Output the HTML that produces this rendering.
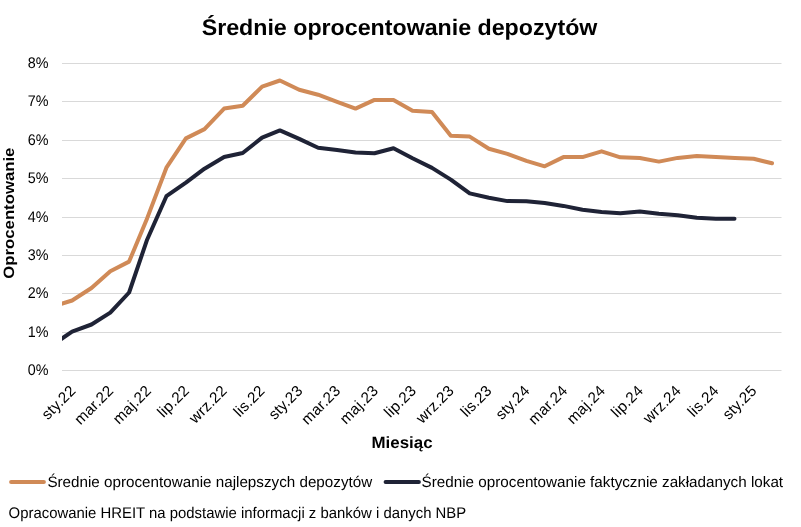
<!DOCTYPE html>
<html><head><meta charset="utf-8"><title>Średnie oprocentowanie depozytów</title>
<style>
html,body{margin:0;padding:0;background:#fff;}
svg{display:block;will-change:transform;}
text{font-family:"Liberation Sans", Arial, sans-serif;text-rendering:geometricPrecision;}
</style></head><body>
<svg width="801" height="527" viewBox="0 0 801 527">
<defs><clipPath id="pa"><rect x="62.1" y="0" width="739" height="527"/></clipPath></defs>
<rect width="801" height="527" fill="#fff"/>
<text x="201.7" y="34.7" font-size="22.5" font-weight="bold" fill="#000" textLength="395.7" lengthAdjust="spacingAndGlyphs">Średnie oprocentowanie depozytów</text>
<g fill="#D9D9D9">
<rect x="62" y="370" width="719.5" height="1"/>
<rect x="62" y="332" width="719.5" height="1"/>
<rect x="62" y="293" width="719.5" height="1"/>
<rect x="62" y="255" width="719.5" height="1"/>
<rect x="62" y="217" width="719.5" height="1"/>
<rect x="62" y="178" width="719.5" height="1"/>
<rect x="62" y="140" width="719.5" height="1"/>
<rect x="62" y="101" width="719.5" height="1"/>
<rect x="62" y="63" width="719.5" height="1"/>
</g>
<g font-size="15.4" fill="#000">
<text x="48.4" y="374.9" text-anchor="end" textLength="20.7" lengthAdjust="spacingAndGlyphs">0%</text>
<text x="48.4" y="336.9" text-anchor="end" textLength="20.7" lengthAdjust="spacingAndGlyphs">1%</text>
<text x="48.4" y="297.9" text-anchor="end" textLength="20.7" lengthAdjust="spacingAndGlyphs">2%</text>
<text x="48.4" y="259.9" text-anchor="end" textLength="20.7" lengthAdjust="spacingAndGlyphs">3%</text>
<text x="48.4" y="221.9" text-anchor="end" textLength="20.7" lengthAdjust="spacingAndGlyphs">4%</text>
<text x="48.4" y="182.9" text-anchor="end" textLength="20.7" lengthAdjust="spacingAndGlyphs">5%</text>
<text x="48.4" y="144.9" text-anchor="end" textLength="20.7" lengthAdjust="spacingAndGlyphs">6%</text>
<text x="48.4" y="105.9" text-anchor="end" textLength="20.7" lengthAdjust="spacingAndGlyphs">7%</text>
<text x="48.4" y="67.9" text-anchor="end" textLength="20.7" lengthAdjust="spacingAndGlyphs">8%</text>
</g>
<text transform="translate(14.4,278.7) rotate(-90)" font-size="15" font-weight="bold" fill="#000" textLength="131.1" lengthAdjust="spacingAndGlyphs">Oprocentowanie</text>
<g font-size="15.3" letter-spacing="0.2" fill="#000">
<text transform="translate(76.60,391.60) rotate(-45)" text-anchor="end">sty.22</text>
<text transform="translate(114.43,391.60) rotate(-45)" text-anchor="end">mar.22</text>
<text transform="translate(152.26,391.60) rotate(-45)" text-anchor="end">maj.22</text>
<text transform="translate(190.10,391.60) rotate(-45)" text-anchor="end">lip.22</text>
<text transform="translate(227.93,391.60) rotate(-45)" text-anchor="end">wrz.22</text>
<text transform="translate(265.76,391.60) rotate(-45)" text-anchor="end">lis.22</text>
<text transform="translate(303.59,391.60) rotate(-45)" text-anchor="end">sty.23</text>
<text transform="translate(341.42,391.60) rotate(-45)" text-anchor="end">mar.23</text>
<text transform="translate(379.26,391.60) rotate(-45)" text-anchor="end">maj.23</text>
<text transform="translate(417.09,391.60) rotate(-45)" text-anchor="end">lip.23</text>
<text transform="translate(454.92,391.60) rotate(-45)" text-anchor="end">wrz.23</text>
<text transform="translate(492.75,391.60) rotate(-45)" text-anchor="end">lis.23</text>
<text transform="translate(530.58,391.60) rotate(-45)" text-anchor="end">sty.24</text>
<text transform="translate(568.42,391.60) rotate(-45)" text-anchor="end">mar.24</text>
<text transform="translate(606.25,391.60) rotate(-45)" text-anchor="end">maj.24</text>
<text transform="translate(644.08,391.60) rotate(-45)" text-anchor="end">lip.24</text>
<text transform="translate(681.91,391.60) rotate(-45)" text-anchor="end">wrz.24</text>
<text transform="translate(719.74,391.60) rotate(-45)" text-anchor="end">lis.24</text>
<text transform="translate(757.58,391.60) rotate(-45)" text-anchor="end">sty.25</text>
</g>
<text x="371.5" y="447.8" font-size="16.3" font-weight="bold" fill="#000" textLength="61.1" lengthAdjust="spacingAndGlyphs">Miesiąc</text>
<g clip-path="url(#pa)" fill="none" stroke-width="4" stroke-linejoin="round" stroke-linecap="round">
<polyline points="53.2,306.4 72.1,300.5 91.5,288.0 110.3,271.3 129.1,261.6 147.1,218.4 166.4,167.7 185.9,138.4 204.5,129.1 224.1,108.6 242.7,105.7 262.1,86.6 279.9,80.5 299.2,89.8 318.1,94.7 337.1,101.9 355.5,108.6 374.5,99.9 393.5,99.9 412.5,110.8 432.0,112.0 450.8,135.7 469.7,136.6 488.9,148.7 507.4,153.9 526.4,160.8 544.7,166.3 563.4,157.1 582.5,157.1 601.6,151.3 620.3,157.3 639.8,158.0 658.9,161.6 677.7,157.9 696.8,155.9 715.9,157.0 735.0,157.9 753.6,158.8 772.0,163.3" stroke="#D08A57"/>
<polyline points="53.2,344.5 72.1,331.6 91.5,324.5 110.3,312.6 129.1,292.5 147.1,239.7 166.4,196.2 185.9,182.7 204.5,168.7 224.1,157.0 242.7,153.0 262.1,137.6 279.9,130.4 299.2,138.9 318.1,147.8 337.1,150.1 355.5,152.6 374.5,153.2 393.5,148.2 412.5,158.3 432.0,167.9 450.8,179.6 469.7,193.4 488.9,197.7 507.4,201.1 526.4,201.2 544.7,203.1 563.4,205.9 582.5,209.7 601.6,212.0 620.3,213.3 639.8,211.5 658.9,213.8 677.7,215.3 696.8,217.8 715.9,218.8 734.5,218.8" stroke="#1F2336"/>
</g>
<line x1="11.1" x2="43.9" y1="481.9" y2="482" stroke="#D08A57" stroke-width="4" stroke-linecap="round"/>
<text x="47.4" y="487.0" font-size="15.2" fill="#000" textLength="324.8" lengthAdjust="spacingAndGlyphs">Średnie oprocentowanie najlepszych depozytów</text>
<line x1="385.6" x2="418.9" y1="481.9" y2="482" stroke="#1F2336" stroke-width="4" stroke-linecap="round"/>
<text x="421.6" y="487.0" font-size="15.2" fill="#000" textLength="361.5" lengthAdjust="spacingAndGlyphs">Średnie oprocentowanie faktycznie zakładanych lokat</text>
<text x="8.6" y="518.3" font-size="15.4" fill="#000" textLength="457.6" lengthAdjust="spacingAndGlyphs">Opracowanie HREIT na podstawie informacji z banków i danych NBP</text>
</svg>
</body></html>
